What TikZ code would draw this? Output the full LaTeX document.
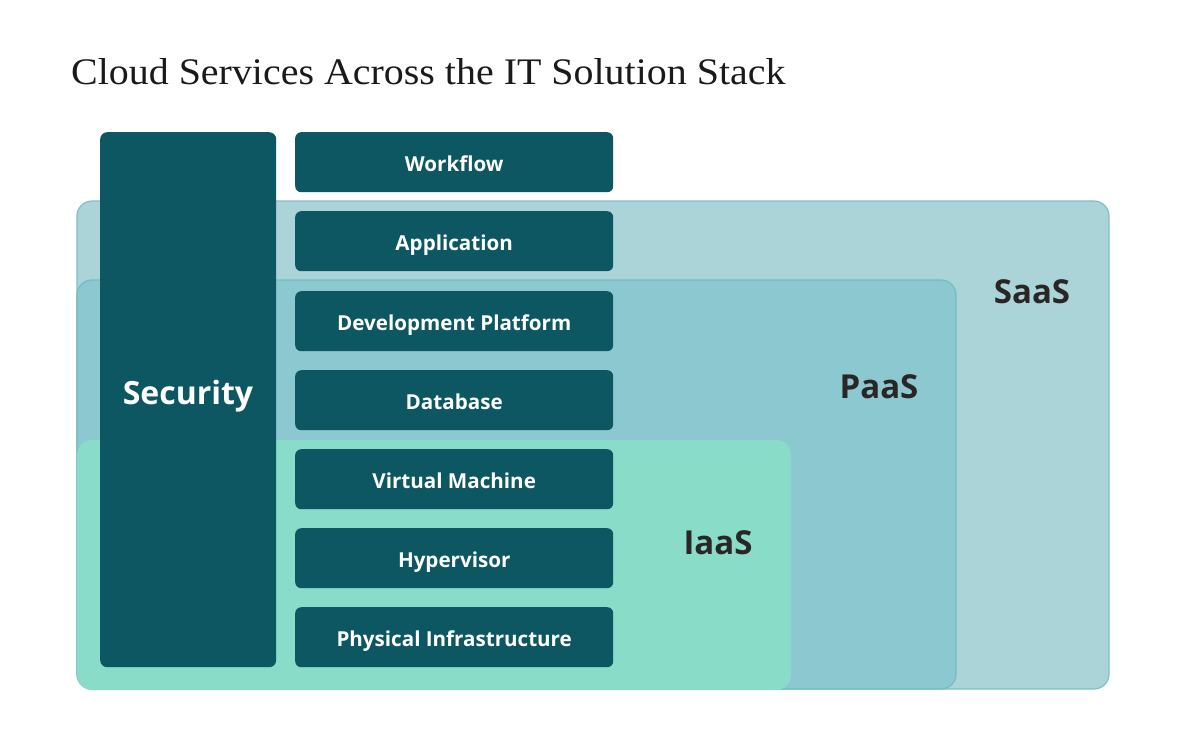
\documentclass[tikz,border=0pt]{standalone}
\usepackage{fontspec}
\setmainfont{Liberation Serif}
\newfontfamily\titlefont[FakeStretch=1.065]{Liberation Serif}
\newfontfamily\lblfont{Open Sans}
\definecolor{saasfill}{HTML}{ABD4D8}
\definecolor{saasline}{HTML}{7DBFC6}
\definecolor{paasfill}{HTML}{8CC8CF}
\definecolor{paasline}{HTML}{72BCC5}
\definecolor{iaasfill}{HTML}{88DCC8}
\definecolor{darkteal}{HTML}{0D5763}
\definecolor{lbltext}{HTML}{2B2626}
\definecolor{titletext}{HTML}{1A1A1A}
\begin{document}
\begin{tikzpicture}[x=1pt,y=-1pt,
  layer/.style={rounded corners=15pt},
  stackbox/.style={draw=none,fill=darkteal,rounded corners=6pt,minimum width=318pt,minimum height=60pt,inner sep=0pt,
    text height=19pt,text depth=0pt,
    text=white,font=\lblfont\bfseries\fontsize{20.6}{24}\selectfont,anchor=north west},
  tierlabel/.style={text=lbltext,inner sep=0pt,anchor=base,font=\lblfont\bfseries\fontsize{33}{38}\selectfont}]
\useasboundingbox (0,0) rectangle (1180,745);
\node[anchor=base west,inner sep=0pt,text=titletext,font=\titlefont\fontsize{37.5}{42}\selectfont] (title) at (71,84) {Cloud Services Across the IT Solution Stack};
% layers
\draw[layer,fill=saasfill,draw=saasline,line width=1.2pt] (77,201) rectangle (1109,689);
\draw[layer,fill=paasfill,draw=paasline,line width=1.2pt] (77,280) rectangle (956,689);
\fill[layer,fill=iaasfill] (77,440) rectangle (791,690);
% security
\node[fill=darkteal,rounded corners=7pt,minimum width=176pt,minimum height=535pt,inner sep=0pt,anchor=north west] (sec) at (100,132) {};
\node[text=white,inner sep=0pt,anchor=base,font=\lblfont\bfseries\fontsize{32}{38}\selectfont] (seclbl) at (188,404) {Security};
% stack
\node[stackbox] (wf) at (295,132) {Workflow};
\node[stackbox] (app) at (295,211) {Application};
\node[stackbox] (dev) at (295,291) {Development Platform};
\node[stackbox] (db) at (295,370) {Database};
\node[stackbox] (vm) at (295,449) {Virtual Machine};
\node[stackbox] (hv) at (295,528) {Hypervisor};
\node[stackbox] (phy) at (295,607) {Physical Infrastructure};
% labels
\node[tierlabel] (saas) at (1032,303) {SaaS};
\node[tierlabel] (paas) at (879,398) {PaaS};
\node[tierlabel] (iaas) at (718,554) {IaaS};
\end{tikzpicture}
\end{document}
